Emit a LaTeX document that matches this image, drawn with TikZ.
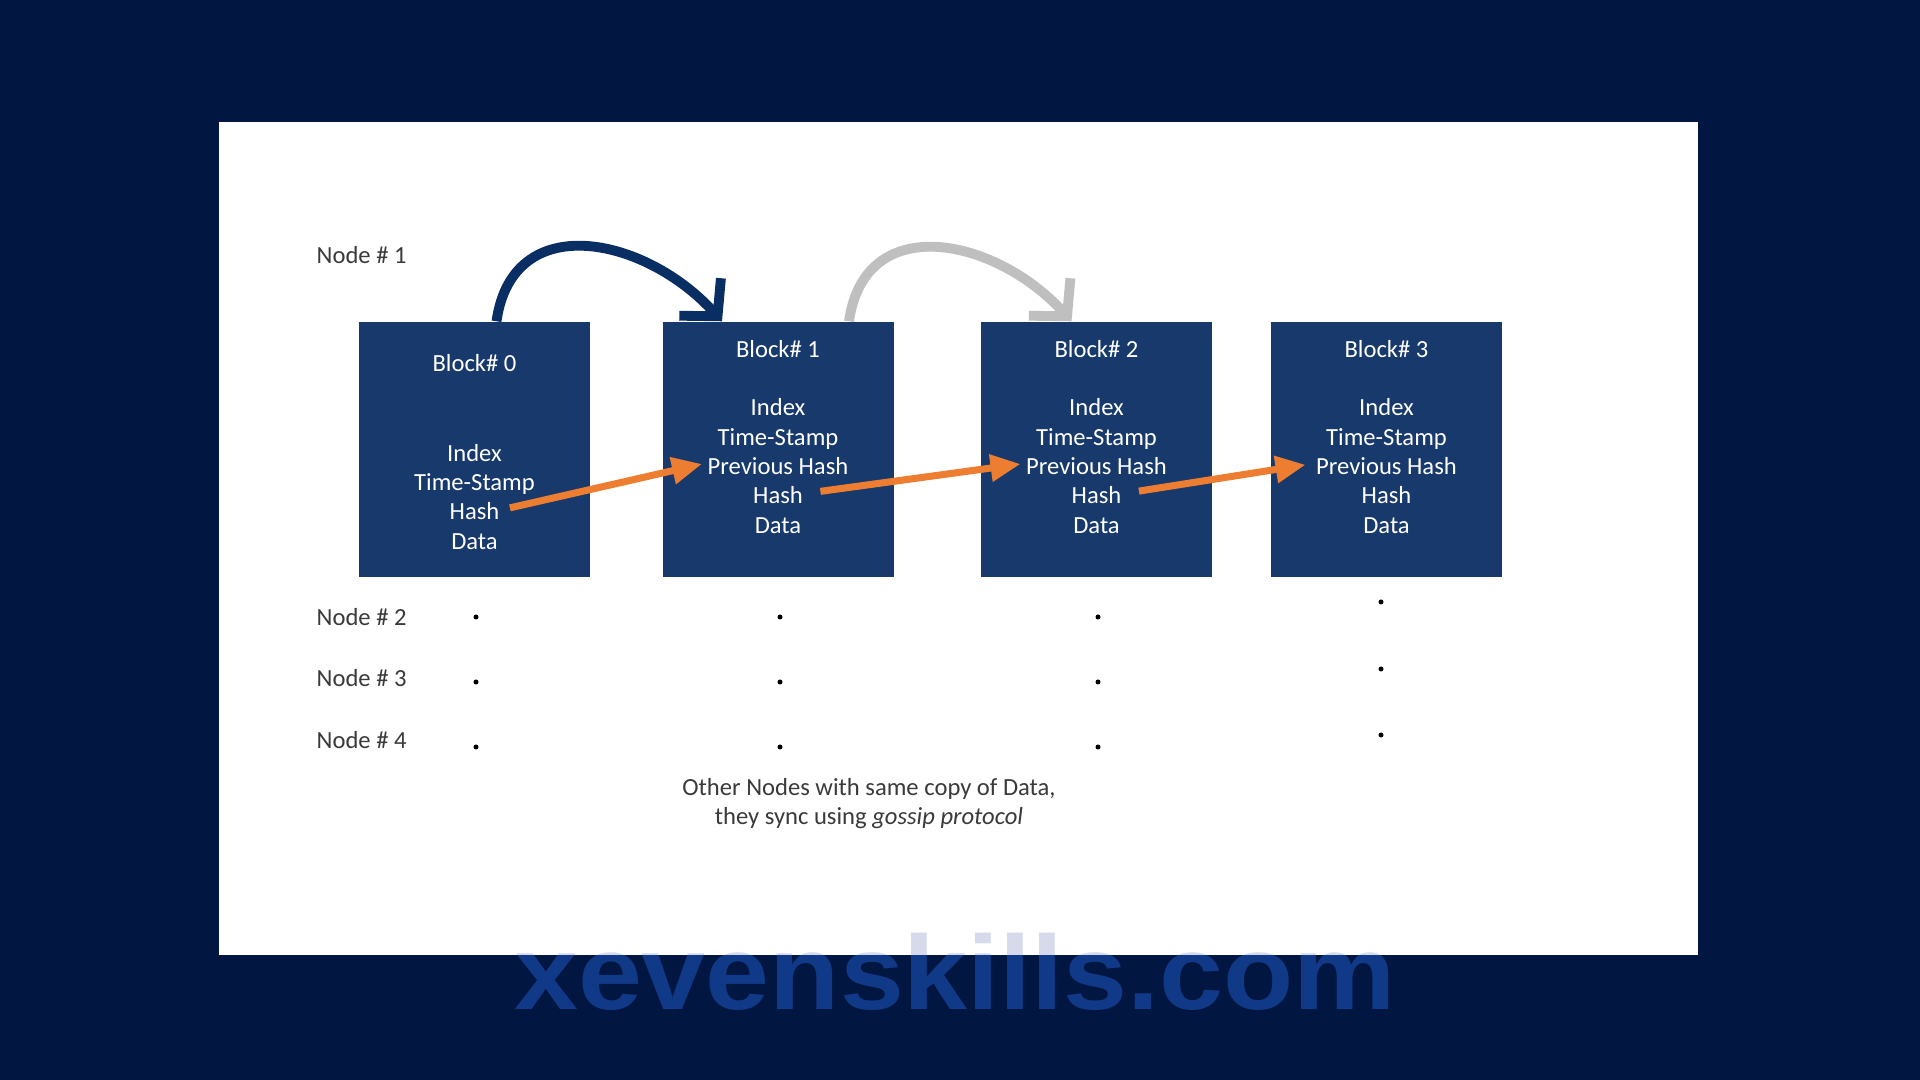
\documentclass[tikz,border=0pt]{standalone}
\usepackage{fontspec}
\setmainfont{Carlito}
\newfontfamily\markfont{Liberation Sans}
\usepackage{xcolor}
\usetikzlibrary{arrows.meta, positioning}

\definecolor{slidenavy}{RGB}{2,22,66}
\definecolor{blockblue}{RGB}{23,57,108}
\definecolor{linknavy}{RGB}{8,46,100}
\definecolor{linkgray}{RGB}{191,191,191}
\definecolor{hashorange}{RGB}{237,125,49}
\definecolor{labelgray}{RGB}{58,58,58}
\definecolor{markblue}{RGB}{16,58,135}
\definecolor{markpale}{RGB}{215,218,235}

\begin{document}
\begin{tikzpicture}[
	block/.style={shape=rectangle, fill=blockblue, minimum width=2.31cm, minimum height=2.55cm, inner sep=0pt},
	field/.style={text=white, font=\fontsize{7}{8.4}\selectfont, inner sep=0.5mm, text height=1.5ex, text depth=.25ex},
	nodelabel/.style={anchor=west, text=labelgray, font=\fontsize{7}{8.4}\selectfont, inner sep=0pt},
	chainlink/.style={line width=2.8pt, -{Straight Barb[length=2.6mm, width=5.6mm]}},
	hashlink/.style={hashorange, line width=2pt, -{Triangle[length=3mm, width=2.6mm]}, shorten <=0.5mm},
	watermark/.style={anchor=base, xscale=1.09, inner sep=0pt, font=\markfont\bfseries\fontsize{30}{36}\selectfont}
]
	% Slide and background:
	\fill[slidenavy] (0, 0) rectangle (19.2, 10.8);
	\node[watermark, text=markblue] (mark) at (9.55, 0.70){xevenskills.com};
	\fill[white] (2.19, 1.25) rectangle (16.98, 9.58);
	\begin{scope}
		\clip (2.19, 1.25) rectangle (16.98, 9.58);
		\node[watermark, text=markpale] (markover) at (9.55, 0.70){xevenskills.com};
	\end{scope}

	% Blocks:
	\node[block] (b0) at (4.745, 6.305){};
	\node[block] (b1) at (7.78, 6.305){};
	\node[block] (b2) at (10.965, 6.305){};
	\node[block] (b3) at (13.865, 6.305){};

	% Block fields:
	\node[field] (t0) at (4.745, 7.19){Block\# 0};
	\node[field] (i0) at (4.745, 6.29){Index};
	\node[field] (s0) at (4.745, 6.00){Time-Stamp};
	\node[field] (h0) at (4.745, 5.71){Hash};
	\node[field] (d0) at (4.745, 5.41){Data};

	\node[field] (t1) at (7.78, 7.33){Block\# 1};
	\node[field] (i1) at (7.78, 6.75){Index};
	\node[field] (s1) at (7.78, 6.45){Time-Stamp};
	\node[field] (p1) at (7.78, 6.16){Previous Hash};
	\node[field] (h1) at (7.78, 5.87){Hash};
	\node[field] (d1) at (7.78, 5.57){Data};

	\node[field] (t2) at (10.965, 7.33){Block\# 2};
	\node[field] (i2) at (10.965, 6.75){Index};
	\node[field] (s2) at (10.965, 6.45){Time-Stamp};
	\node[field] (p2) at (10.965, 6.16){Previous Hash};
	\node[field] (h2) at (10.965, 5.87){Hash};
	\node[field] (d2) at (10.965, 5.57){Data};

	\node[field] (t3) at (13.865, 7.33){Block\# 3};
	\node[field] (i3) at (13.865, 6.75){Index};
	\node[field] (s3) at (13.865, 6.45){Time-Stamp};
	\node[field] (p3) at (13.865, 6.16){Previous Hash};
	\node[field] (h3) at (13.865, 5.87){Hash};
	\node[field] (d3) at (13.865, 5.57){Data};

	% Hash links:
	\draw[hashlink] (h0.east) -- (p1.west);
	\draw[hashlink, shorten <=1.2mm] (h1.east) -- (p2.west);
	\draw[hashlink, shorten <=1.2mm, shorten >=0.5mm] (h2.east) -- (p3.west);

	% Chain links:
	\draw[chainlink, linknavy] ([xshift=2.2mm]b0.north) to[out=82, in=132, looseness=1.3] ([xshift=-5.6mm]b1.north);
	\draw[chainlink, linkgray] ([xshift=7.1mm]b1.north) to[out=82, in=132, looseness=1.3] ([xshift=-2.5mm]b2.north);

	% Node labels:
	\node[nodelabel] (n1) at (3.16, 8.25){Node \# 1};
	\node[nodelabel] (n2) at (3.16, 4.63){Node \# 2};
	\node[nodelabel] (n3) at (3.16, 4.02){Node \# 3};
	\node[nodelabel] (n4) at (3.16, 3.40){Node \# 4};

	% Other copies:
	\fill[black] (4.76, 4.63) circle (0.025);
	\fill[black] (4.76, 3.98) circle (0.025);
	\fill[black] (4.76, 3.33) circle (0.025);
	\fill[black] (7.80, 4.63) circle (0.025);
	\fill[black] (7.80, 3.98) circle (0.025);
	\fill[black] (7.80, 3.33) circle (0.025);
	\fill[black] (10.98, 4.63) circle (0.025);
	\fill[black] (10.98, 3.98) circle (0.025);
	\fill[black] (10.98, 3.33) circle (0.025);
	\fill[black] (13.81, 4.78) circle (0.025);
	\fill[black] (13.81, 4.11) circle (0.025);
	\fill[black] (13.81, 3.45) circle (0.025);

	\node[align=center, text=labelgray, font=\fontsize{7}{8.4}\selectfont, inner sep=0pt] (note) at (8.69, 2.765){Other Nodes with same copy of Data,\\they sync using \textit{gossip protocol}};
\end{tikzpicture}
\end{document}
